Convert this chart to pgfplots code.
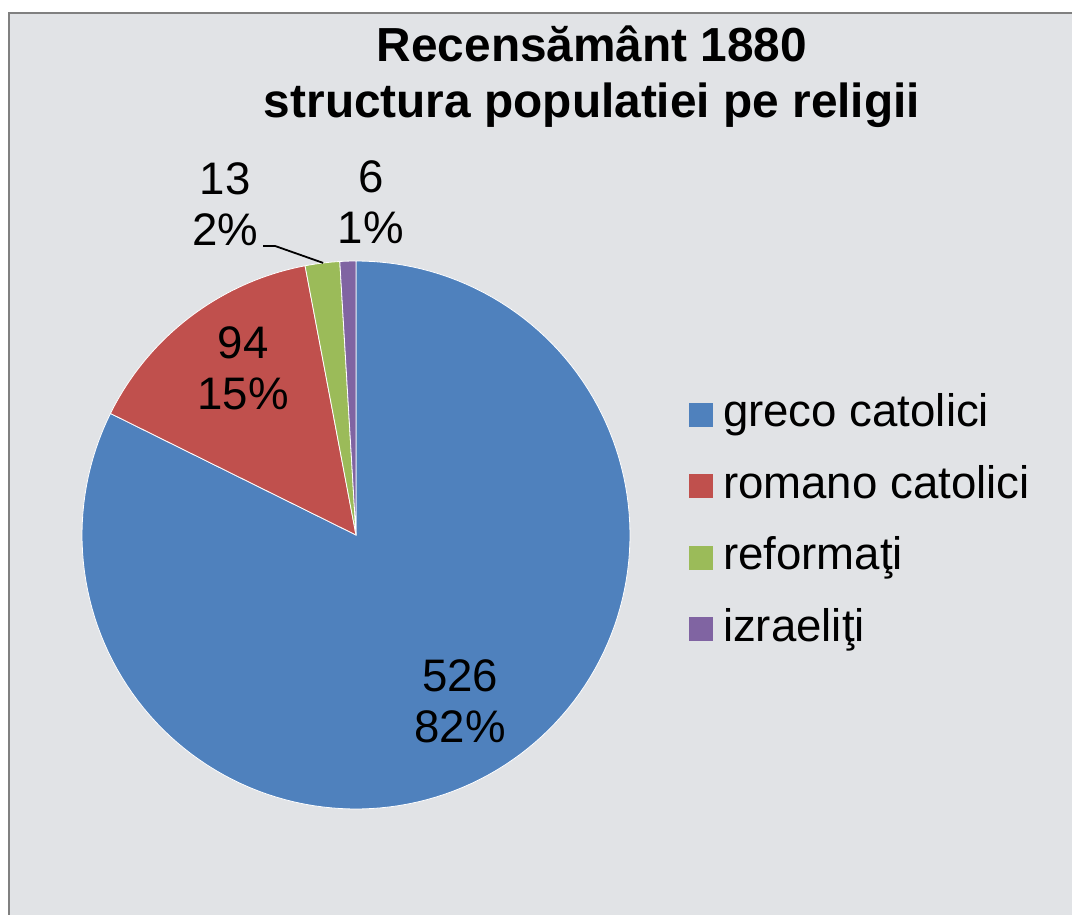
\documentclass[border=0pt]{standalone}
\usepackage{pgfplots}
\pgfplotsset{compat=1.18}
\usepackage{fontspec}
\setmainfont{Liberation Sans}
\definecolor{cA}{HTML}{4F81BD}
\definecolor{cB}{HTML}{C0504D}
\definecolor{cC}{HTML}{9BBB59}
\definecolor{cD}{HTML}{8064A2}
\definecolor{bg}{HTML}{E1E3E6}
\definecolor{frame}{HTML}{808080}
% values
\def\vA{526}\def\vB{94}\def\vC{13}\def\vD{6}
\pgfmathsetmacro{\tot}{\vA+\vB+\vC+\vD}
\pgfmathsetmacro{\aZ}{90}
\pgfmathsetmacro{\aA}{\aZ-360*(\vA/\tot)}
\pgfmathsetmacro{\aB}{\aA-360*(\vB/\tot)}
\pgfmathsetmacro{\aC}{\aB-360*(\vC/\tot)}
\pgfmathsetmacro{\aD}{\aC-360*(\vD/\tot)}
\begin{document}
\begin{tikzpicture}
\useasboundingbox (0,0) rectangle (536pt,457.5pt);
\fill[white] (0,0) rectangle (536pt,457.5pt);
\filldraw[fill=bg, draw=frame, line width=1pt] (4.7pt,-5pt) rectangle (545pt,450.8pt);
\node[font=\fontsize{23.9}{27}\selectfont\bfseries, anchor=base] at (296pt,426.5pt) {Recensământ 1880};
\node[font=\fontsize{23.9}{27}\selectfont\bfseries, anchor=base] at (296pt,398.5pt) {structura populatiei pe religii};
\begin{axis}[
  at={(178pt,190pt)}, anchor=center,
  scale only axis, width=274pt, height=274pt,
  xmin=-1, xmax=1, ymin=-1, ymax=1,
  hide axis, clip=false,
  legend image code/.code={\fill[#1,draw=none] (0pt,0pt) rectangle (12pt,12pt);},
  legend style={at={(1.1077,0.7555)}, anchor=north west, draw=none, fill=none,
    inner sep=0pt, outer sep=0pt, column sep=5pt, row sep=15.75pt,
    font=\fontsize{22.8}{26}\selectfont,
    nodes={inner sep=0pt, text height=16pt, text depth=4pt},
    cells={anchor=base west}},
]
\addplot[fill=cA, draw=white, line width=0.4pt, domain=\aA:\aZ, samples=150, variable=\t] ({cos(\t)},{sin(\t)}) -- (0,0) -- cycle;
\addlegendentry{greco catolici}
\addplot[fill=cB, draw=white, line width=0.4pt, domain=\aB:\aA, samples=40, variable=\t] ({cos(\t)},{sin(\t)}) -- (0,0) -- cycle;
\addlegendentry{romano catolici}
\addplot[fill=cC, draw=white, line width=0.4pt, domain=\aC:\aB, samples=10, variable=\t] ({cos(\t)},{sin(\t)}) -- (0,0) -- cycle;
\addlegendentry{reformaţi}
\addplot[fill=cD, draw=white, line width=0.4pt, domain=\aD:\aC, samples=6, variable=\t] ({cos(\t)},{sin(\t)}) -- (0,0) -- cycle;
\addlegendentry{izraeliţi}
\draw[black, line width=0.9pt] (-0.339,1.055) -- (-0.296,1.055) -- (-0.120,0.993);
\begin{scope}[every node/.style={align=center, font=\fontsize{22.8}{25.5}\selectfont, inner sep=0pt}]
\node at (0.38,-0.608) {\vA\\82\%};
\node at (-0.412,0.609) {\vB\\15\%};
\node at (-0.478,1.208) {\vC\\2\%};
\node at (0.054,1.215) {\vD\\1\%};
\end{scope}
\end{axis}
\end{tikzpicture}
\end{document}
